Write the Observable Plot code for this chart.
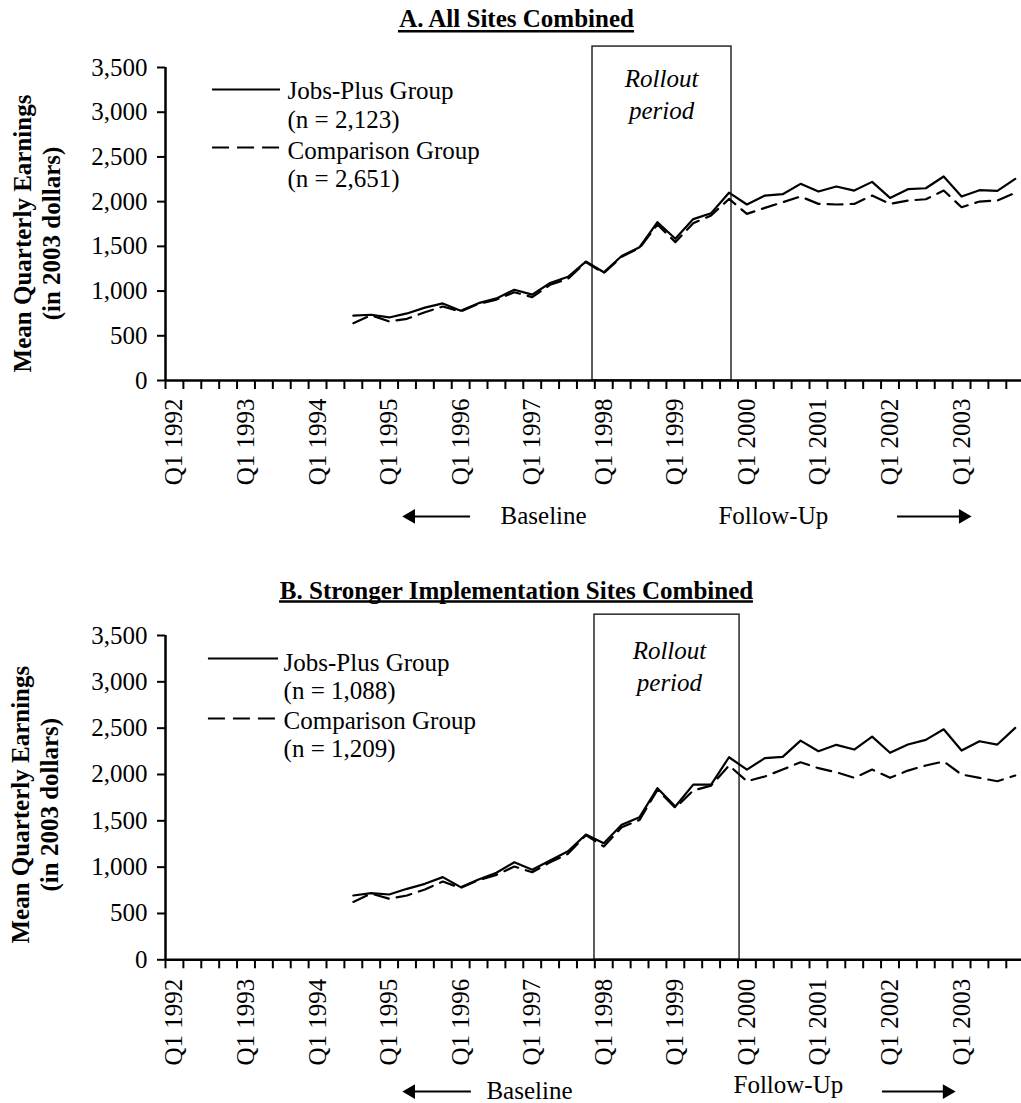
<!DOCTYPE html>
<html><head><meta charset="utf-8">
<script src="https://cdn.jsdelivr.net/npm/d3@7"></script>
<script src="https://cdn.jsdelivr.net/npm/@observablehq/plot@0.6"></script>
<style>
body{margin:0;background:#fff;overflow:hidden}
#chart{position:relative;width:1021px;height:1103px;background:#fff}
#chart svg{position:absolute;left:0;overflow:visible}
</style></head><body><div id="chart"></div>
<script>
// ---- categories ----
const allQuarters = [];
for (let y = 1992; y <= 2003; y++) for (let q = 1; q <= 4; q++) allQuarters.push(`Q${q} ${y}`);
const yearLabels = ["Q1 1992","Q1 1993","Q1 1994","Q1 1995","Q1 1996","Q1 1997","Q1 1998","Q1 1999","Q1 2000","Q1 2001","Q1 2002","Q1 2003"];
const firstQuarter = "Q3 1994";
const yTicks = [0, 500, 1000, 1500, 2000, 2500, 3000, 3500];

// ---- series values (Q3 1994 .. Q4 2003) ----
const allSitesJobsPlus = [725,735,705,750,815,862,780,865,918,1015,960,1090,1160,1330,1210,1392,1490,1770,1585,1805,1870,2100,1968,2068,2083,2199,2113,2169,2124,2221,2042,2139,2150,2281,2057,2128,2120,2255];
const allSitesComparison = [641,730,660,690,764,827,771,857,905,987,932,1070,1137,1325,1200,1385,1480,1744,1547,1759,1845,2030,1863,1930,1993,2057,1975,1968,1975,2068,1975,2012,2027,2124,1938,2001,2012,2098];
const strongerJobsPlus = [694,719,705,766,820,892,784,867,939,1053,971,1071,1172,1352,1258,1457,1539,1852,1654,1891,1891,2186,2053,2176,2190,2366,2251,2320,2269,2409,2234,2323,2374,2488,2258,2359,2323,2503];
const strongerComparison = [625,715,659,694,759,845,775,860,917,1007,945,1053,1144,1345,1223,1430,1510,1834,1640,1827,1880,2097,1927,1978,2053,2132,2068,2024,1964,2053,1964,2042,2097,2140,2000,1964,1927,1989];

const titles = ["A. All Sites Combined", "B. Stronger Implementation Sites Combined"];
const legendA = ["Jobs-Plus Group", "(n = 2,123)", "Comparison Group", "(n = 2,651)"];
const legendB = ["Jobs-Plus Group", "(n = 1,088)", "Comparison Group", "(n = 1,209)"];
const yTitle = "Mean Quarterly Earnings\n(in 2003 dollars)";

const idx = q => allQuarters.indexOf(q);
const start = idx(firstQuarter);
const series = vals => vals.map((v, k) => ({i: start + k, v}));

const xDomain = [-0.5, 47.35];
const xScale = Plot.scale({x: {domain: xDomain, range: [165, 1021]}});
const titleCenterPx = 516;
const ctx = document.createElement("canvas").getContext("2d");
ctx.font = 'bold 25px "Liberation Serif"';
const underline = t => {
  const w = ctx.measureText(t).width;
  return [xScale.invert(titleCenterPx - w / 2), xScale.invert(titleCenterPx + w / 2)];
};

const panels = [
  {title: titles[0], legend: legendA, jp: allSitesJobsPlus, cmp: allSitesComparison,
   L: {top: 0, height: 560, mt: 67, mb: 180, box: [23.37, 31.14, 3734], labelPad: 18,
       titleDy: -49, underlineY: 3905, yDx: -129, yDy: 9.5,
       leg: {x1: 2.13, x2: 5.93, jpY: 3253, cmpY: 2605, tx: 6.32, ty: [3242, 2918, 2571, 2258]},
       roll: {x: 27.23, y: [3376, 3019]},
       arrowY: -1520, left: [16.55, 13.21], right: [40.42, 44.09],
       base: [18.23, -1520], follow: [30.41, -1520]}},
  {title: titles[1], legend: legendB, jp: strongerJobsPlus, cmp: strongerComparison,
   L: {top: 560, height: 543, mt: 75, mb: 143.7, box: [23.48, 31.59, 3725], labelPad: 19,
       titleDy: -45, underlineY: 3866, yDx: -131, yDy: 7,
       leg: {x1: 1.90, x2: 5.82, jpY: 3251, cmpY: 2604, tx: 6.10, ty: [3208, 2906, 2582, 2280]},
       roll: {x: 27.67, y: [3337, 2992]},
       arrowY: -1422, left: [16.6, 13.21], right: [39.58, 43.19],
       base: [17.44, -1411], follow: [31.25, -1347]}}
];

const chart = document.getElementById("chart");
for (const p of panels) {
  const L = p.L;
  const ul = underline(p.title);
  const svg = Plot.plot({
    width: 1021, height: L.height,
    marginLeft: 165, marginRight: 0, marginTop: L.mt, marginBottom: L.mb,
    style: {fontFamily: '"Liberation Serif", "Times New Roman", serif', fontSize: "25px", background: "white", color: "black", overflow: "visible"},
    x: {domain: xDomain, label: null},
    y: {domain: [0, 3500], label: null},
    marks: [
      Plot.rect([0], {x1: L.box[0], x2: L.box[1], y1: 0, y2: L.box[2], fill: "none", stroke: "#1a1a1a", strokeWidth: 1.4}),
      Plot.line(series(p.cmp), {x: "i", y: "v", stroke: "black", strokeWidth: 2.2, strokeDasharray: "15,8"}),
      Plot.line(series(p.jp), {x: "i", y: "v", stroke: "black", strokeWidth: 2.2}),
      Plot.axisY(yTicks, {tickSize: 8, tickPadding: 10, tickFormat: d3.format(","), strokeWidth: 2, fontSize: 25, label: null}),
      Plot.ruleX([-0.5], {y1: 0, y2: 3500, strokeWidth: 2.5}),
      Plot.ruleY([0], {x1: xDomain[0], x2: xDomain[1], strokeWidth: 2.5}),
      Plot.axisX(d3.range(49).map(k => k - 0.5), {tickSize: 9, tickFormat: () => "", strokeWidth: 2, label: null}),
      Plot.axisX(yearLabels.map(idx), {tickSize: 0, tickPadding: L.labelPad, tickRotate: -90, tickFormat: i => allQuarters[i], fontSize: 25, label: null}),
      Plot.text([p.title], {text: d => d, frameAnchor: "top", dx: titleCenterPx - 593, dy: L.titleDy, fontWeight: "bold", lineAnchor: "middle", fontSize: 25}),
      Plot.ruleY([L.underlineY], {x1: ul[0], x2: ul[1], strokeWidth: 2.5}),
      Plot.text([yTitle], {text: d => d, frameAnchor: "left", dx: L.yDx, dy: L.yDy, rotate: -90, fontWeight: "bold", lineHeight: 1.16, textAnchor: "middle", lineAnchor: "middle", fontSize: 25}),
      Plot.ruleY([L.leg.jpY], {x1: L.leg.x1, x2: L.leg.x2, strokeWidth: 2}),
      Plot.ruleY([L.leg.cmpY], {x1: L.leg.x1, x2: L.leg.x2, strokeWidth: 2, strokeDasharray: "17,8"}),
      Plot.text(p.legend, {text: d => d, x: L.leg.tx, y: (d, k) => L.leg.ty[k], textAnchor: "start", lineAnchor: "middle", fontSize: 25}),
      Plot.text(["Rollout", "period"], {text: d => d, x: L.roll.x, y: (d, k) => L.roll.y[k], fontStyle: "italic", lineAnchor: "middle", fontSize: 25}),
      Plot.ruleY([L.arrowY], {x1: L.left[0], x2: L.left[1], strokeWidth: 2}),
      Plot.dot([L.arrowY], {x: L.left[1], y: d => d, symbol: "triangle", rotate: -90, r: 4.5, fill: "black", stroke: "black"}),
      Plot.ruleY([L.arrowY], {x1: L.right[0], x2: L.right[1], strokeWidth: 2}),
      Plot.dot([L.arrowY], {x: L.right[1], y: d => d, symbol: "triangle", rotate: 90, r: 4.5, fill: "black", stroke: "black"}),
      Plot.text(["Baseline"], {text: d => d, x: L.base[0], y: L.base[1], textAnchor: "start", lineAnchor: "middle", fontSize: 25}),
      Plot.text(["Follow-Up"], {text: d => d, x: L.follow[0], y: L.follow[1], textAnchor: "start", lineAnchor: "middle", fontSize: 25})
    ]
  });
  svg.style.top = L.top + "px";
  chart.appendChild(svg);
}
</script></body></html>
